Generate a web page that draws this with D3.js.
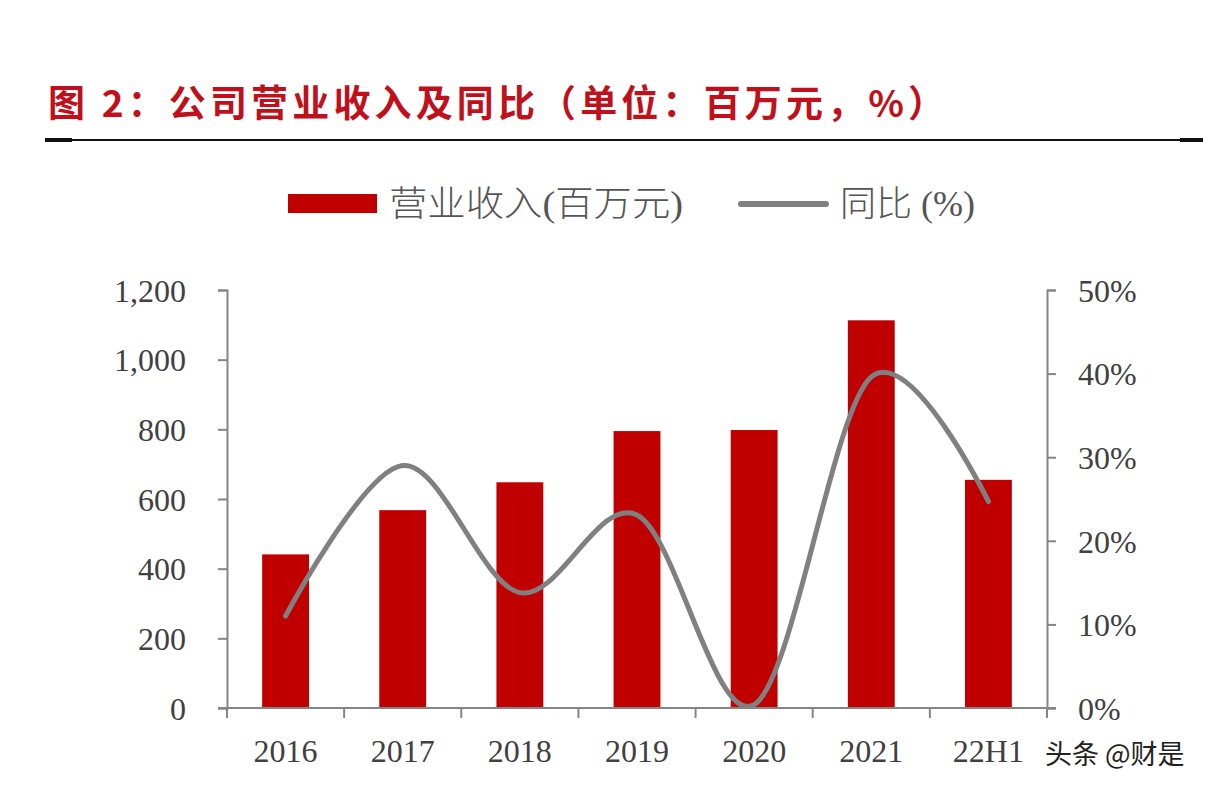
<!DOCTYPE html>
<html><head><meta charset="utf-8">
<script src="https://cdn.jsdelivr.net/npm/d3@7"></script>
<style>html,body{margin:0;padding:0;background:#fff;}svg{display:block;}</style>
</head><body>
<svg id="c" width="1210" height="792"></svg>
<script>
const categories = ["2016","2017","2018","2019","2020","2021","22H1"];
const revenue = [441, 568, 648, 795, 798, 1113, 655];
const yoy = [11.0, 29.0, 13.8, 23.1, 0.4, 39.6, 24.7];
const leftTicks = [0, 200, 400, 600, 800, 1000, 1200];
const rightTicks = [0, 10, 20, 30, 40, 50];
const titleText = "图 2：公司营业收入及同比（单位：百万元，%）";
const legendLabels = ["营业收入(百万元)", "同比 (%)"];

const svg = d3.select("#c");
const serif = "'Liberation Serif','Times New Roman',serif";
const cjk = "'Noto Sans CJK SC','Noto Sans',sans-serif";
const axisColor = "#858585";
const textColor = "#404040";

// title
svg.append("text").attr("x", 48).attr("y", 117)
  .attr("font-family", cjk).attr("font-weight", "bold").attr("font-size", 37)
  .attr("textLength", 897).attr("lengthAdjust", "spacing")
  .attr("fill", "#C0101C").text(titleText);
svg.append("line").attr("x1", 45).attr("x2", 1203).attr("y1", 140).attr("y2", 140)
  .attr("stroke", "#111").attr("stroke-width", 2);
svg.append("line").attr("x1", 45).attr("x2", 72).attr("y1", 140).attr("y2", 140)
  .attr("stroke", "#111").attr("stroke-width", 4);
svg.append("line").attr("x1", 1180).attr("x2", 1203).attr("y1", 140).attr("y2", 140)
  .attr("stroke", "#111").attr("stroke-width", 4);

// scales
const x = d3.scaleBand().domain(categories).range([227, 1047]).paddingInner(0.6).paddingOuter(0.3);
const xb = d3.scaleBand().domain(categories).range([227, 1047]).padding(0);
const yL = d3.scaleLinear().domain([0, 1200]).range([708, 290]);
const yR = d3.scaleLinear().domain([0, 50]).range([708, 290]);

// bars
svg.append("g").selectAll("rect").data(categories).join("rect")
  .attr("x", d => x(d)).attr("width", x.bandwidth())
  .attr("y", (d, i) => yL(revenue[i])).attr("height", (d, i) => yL(0) - yL(revenue[i]))
  .attr("fill", "#C00000");

// line
const line = d3.line().x((d, i) => x(categories[i]) + x.bandwidth() / 2).y(d => yR(d))
  .curve(d3.curveCatmullRom.alpha(0));
svg.append("path").datum(yoy).attr("d", line).attr("fill", "none")
  .attr("stroke", "#808080").attr("stroke-width", 5).attr("stroke-linecap", "round");

// axes
function styleAxis(g) {
  g.selectAll("path.domain").attr("stroke", axisColor).attr("stroke-width", 2);
  g.selectAll(".tick line").attr("stroke", axisColor).attr("stroke-width", 2);
  g.selectAll("text").attr("font-family", serif).attr("font-size", 32).attr("fill", textColor);
}
const gl = svg.append("g").attr("transform", "translate(227,0)")
  .call(d3.axisLeft(yL).tickValues(leftTicks).tickSize(9).tickSizeOuter(9).tickPadding(32)
    .tickFormat(d3.format(",")));
styleAxis(gl);
gl.selectAll("text").attr("dy", "0.35em");

const gr = svg.append("g").attr("transform", "translate(1047,0)")
  .call(d3.axisRight(yR).tickValues(rightTicks).tickSize(9).tickSizeOuter(9).tickPadding(22)
    .tickFormat(d => d + "%"));
styleAxis(gr);
gr.selectAll("text").attr("dy", "0.35em");

// x axis with tick marks at band boundaries
const gx = svg.append("g").attr("transform", "translate(0,708)");
gx.append("line").attr("x1", 218).attr("x2", 1056).attr("y1", 0).attr("y2", 0)
  .attr("stroke", axisColor).attr("stroke-width", 2);
const bounds = categories.map(c => xb(c)).concat([xb.range()[1]]);
gx.selectAll("line.t").data(bounds).join("line").attr("class", "t")
  .attr("x1", d => d).attr("x2", d => d).attr("y1", 0).attr("y2", 10)
  .attr("stroke", axisColor).attr("stroke-width", 2);
gx.selectAll("text").data(categories).join("text")
  .attr("x", d => x(d) + x.bandwidth() / 2).attr("y", 54)
  .attr("text-anchor", "middle").attr("font-family", serif).attr("font-size", 32)
  .attr("fill", textColor).text(d => d);

// legend
svg.append("rect").attr("x", 288).attr("y", 194).attr("width", 89).attr("height", 19).attr("fill", "#C00000");
svg.append("text").attr("x", 389).attr("y", 216).attr("font-family", serif + ",'Noto Sans CJK SC'")
  .attr("font-size", 35).attr("font-weight", 300).attr("fill", "#555")
  .attr("textLength", 294).attr("lengthAdjust", "spacingAndGlyphs")
  .text(legendLabels[0]);
svg.append("line").attr("x1", 741).attr("x2", 826).attr("y1", 204).attr("y2", 204)
  .attr("stroke", "#808080").attr("stroke-width", 6).attr("stroke-linecap", "round");
svg.append("text").attr("x", 840).attr("y", 216).attr("font-family", serif + ",'Noto Sans CJK SC'")
  .attr("font-size", 35).attr("font-weight", 300).attr("fill", "#555")
  .attr("textLength", 135).attr("lengthAdjust", "spacingAndGlyphs")
  .text(legendLabels[1]);

// watermark
svg.append("text").attr("x", 1045).attr("y", 764).attr("font-family", cjk)
  .attr("font-size", 27).attr("fill", "#222").attr("stroke", "#fff").attr("stroke-width", 3)
  .attr("paint-order", "stroke").text("头条 @财是");
</script>
</body></html>
